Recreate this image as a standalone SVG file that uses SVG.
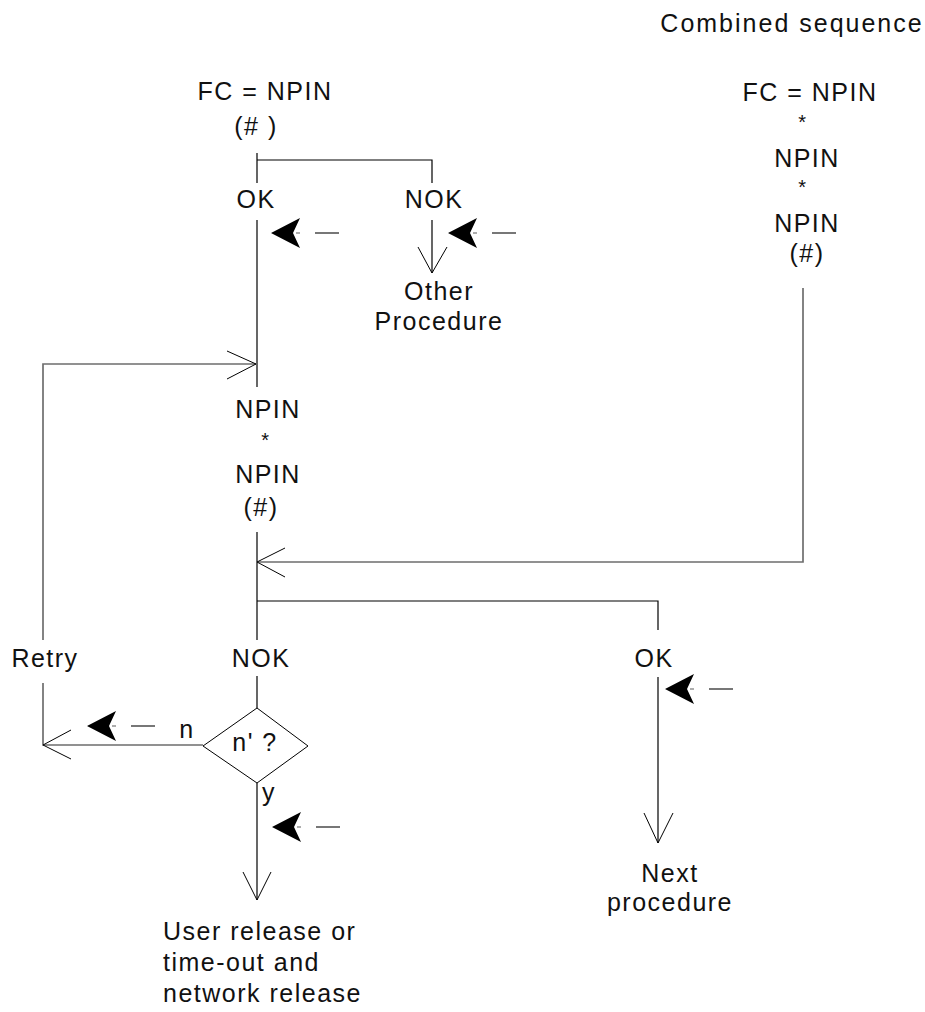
<svg xmlns="http://www.w3.org/2000/svg" width="925" height="1012" viewBox="0 0 925 1012">
<style>
text{font-family:"Liberation Sans",Arial,sans-serif;font-size:25px;letter-spacing:1.5px;fill:#111}
.m{text-anchor:middle}
.ast{font-size:20px}
.ln{fill:none;stroke:#000;stroke-width:1.2}
.gr{fill:none;stroke:#6e6e6e;stroke-width:1.7}
.ah{fill:none;stroke:#000;stroke-width:1}
</style>
<defs>
<g id="sig">
<path d="M0,0 L29,-15 L22,0 L29,15 Z" fill="#000"/>
<line x1="25" y1="0" x2="29" y2="0" stroke="#777" stroke-width="1.2"/>
<line x1="44" y1="0" x2="68" y2="0" stroke="#555" stroke-width="1.6"/>
</g>
</defs>
<rect width="925" height="1012" fill="#fff"/>
<g id="connectors">
<path class="ln" d="M257,153 V183 M257,160 H432 V183"/>
<path class="ln" d="M257,220 V387"/>
<path class="ln" d="M432,220 V273"/>
<path class="ah" d="M418,247 L432,273 L447,247"/>
<path class="gr" d="M43,640 V364 H256"/>
<path class="ah" d="M227,351 L256,364 L227,379"/>
<path class="ln" d="M257,532 V640"/>
<path class="gr" d="M803,288 V562 H258"/>
<path class="ah" d="M285,548 L257,562 L285,577"/>
<path class="ln" d="M257,601 H658 V630"/>
<path class="ln" d="M257,676 V708"/>
<path class="gr" d="M203,745 H43 V683"/>
<path class="ah" d="M71,730 L43,745 L71,759"/>
<path class="ln" d="M257,783 V900"/>
<path class="ah" d="M243,872 L257,900 L271,872"/>
<path class="ln" d="M658,677 V843"/>
<path class="ah" d="M644,813 L658,843 L673,813"/>
<use href="#sig" x="271" y="233"/>
<use href="#sig" x="448" y="233"/>
<use href="#sig" x="87" y="726"/>
<use href="#sig" x="272" y="827"/>
<use href="#sig" x="665" y="689"/>
</g>
<g id="title"><text class="m" x="792" y="32" style="letter-spacing:2px">Combined sequence</text></g>
<g id="fc-left">
<text class="m" x="265" y="100">FC = NPIN</text>
<text class="m" x="256" y="135">(# )</text>
</g>
<g id="ok-top"><text class="m" x="256" y="208">OK</text></g>
<g id="nok-top"><text class="m" x="434" y="208">NOK</text></g>
<g id="other-procedure">
<text class="m" x="439" y="300">Other</text>
<text class="m" x="439" y="330">Procedure</text>
</g>
<g id="npin-left">
<text class="m" x="268" y="418">NPIN</text>
<text class="m ast" x="266" y="447">*</text>
<text class="m" x="268" y="483">NPIN</text>
<text class="m" x="261" y="516">(#)</text>
</g>
<g id="fc-right">
<text class="m" x="810" y="101">FC = NPIN</text>
<text class="m ast" x="803" y="129">*</text>
<text class="m" x="807" y="167">NPIN</text>
<text class="m ast" x="803" y="194">*</text>
<text class="m" x="807" y="232">NPIN</text>
<text class="m" x="807" y="262">(#)</text>
</g>
<g id="retry"><text class="m" x="45" y="667">Retry</text></g>
<g id="nok-bottom"><text class="m" x="261" y="667">NOK</text></g>
<g id="ok-bottom"><text class="m" x="654" y="667">OK</text></g>
<g id="decision">
<polygon points="257,708 308,746 257,783 203,746" fill="#fff" stroke="#000" stroke-width="1"/>
<text class="m" x="255" y="751">n' ?</text>
</g>
<g id="label-n"><text class="m" x="187" y="738">n</text></g>
<g id="label-y"><text x="262" y="801">y</text></g>
<g id="user-release">
<text x="163" y="940">User release or</text>
<text x="163" y="971">time-out and</text>
<text x="163" y="1002">network release</text>
</g>
<g id="next-procedure">
<text class="m" x="670" y="882">Next</text>
<text class="m" x="670" y="911">procedure</text>
</g>
</svg>
